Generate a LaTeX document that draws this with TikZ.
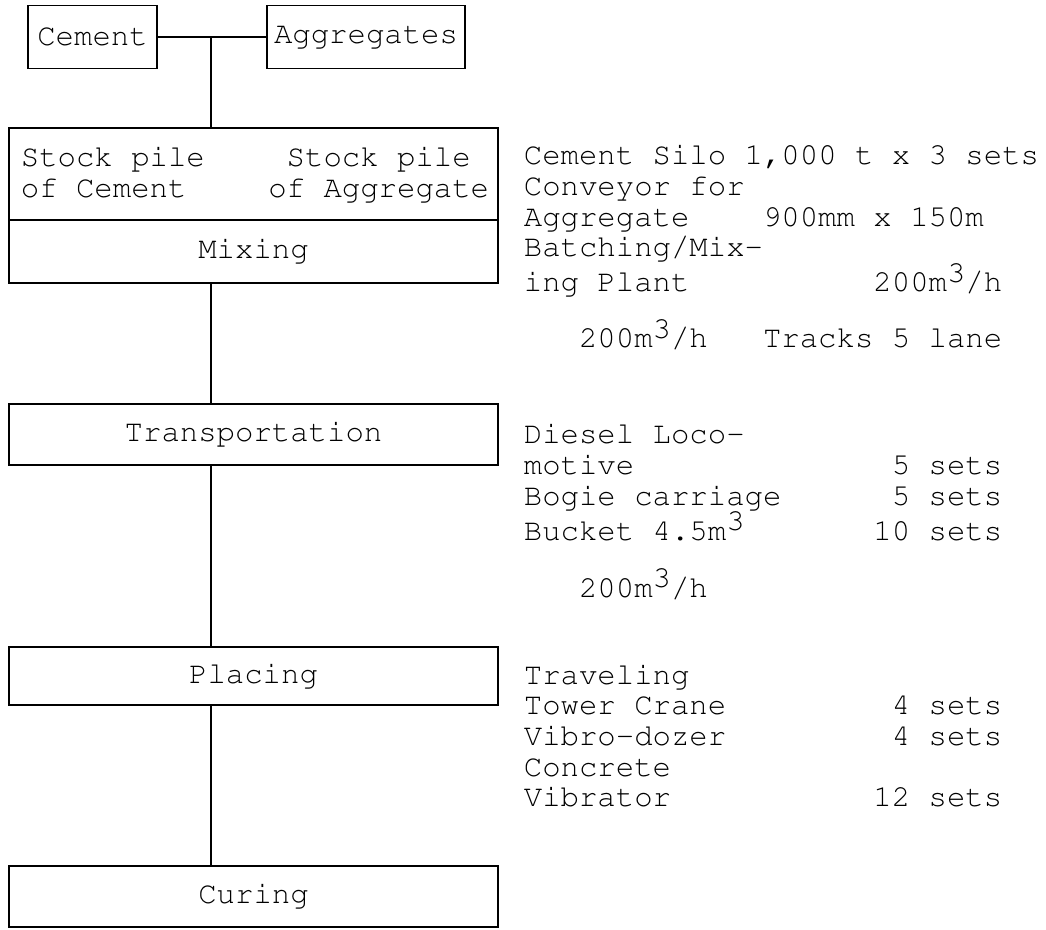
\documentclass[tikz,border=0pt]{standalone}
\usepackage[T1]{fontenc}
\usepackage{tikz}
\usetikzlibrary{positioning}
\tikzstyle{source} = [
    rectangle,
    minimum height=47.25pt,
    inner sep=0pt,
    outer sep=0pt,
    draw=black
]
\tikzstyle{stage} = [
    rectangle,
    minimum width=366.75pt,
    inner sep=0pt,
    outer sep=0pt,
    draw=black
]
\tikzstyle{spec} = [
    text width=358.8pt,
    align=left,
    inner sep=0pt,
    anchor=base west,
    execute at begin node={\spaceskip=0.6em\relax\xspaceskip=0.6em\relax}
]
\tikzstyle{pile} = [
    text width=165.6pt,
    align=left,
    inner sep=0pt,
    execute at begin node={\spaceskip=0.6em\relax\xspaceskip=0.6em\relax}
]
\tikzstyle{link} = [line width=1.3pt]
\newcommand{\cubic}{\raisebox{0.3em}{3}}

\begin{document}
\begin{tikzpicture}[x=0.75pt, y=-0.75pt, line width=1.3pt,
    font=\fontsize{23}{23}\fontfamily{pcr}\selectfont]
\useasboundingbox (0,0) rectangle (1046,930);

\node (cement) [source, minimum width=96.75pt] at (92.5,37) {Cement};
\node (aggr) [source, minimum width=148.5pt] at (366,37) {Aggregates};
\coordinate (junc) at (211,37);

\node (stock) [stage, minimum height=69pt] at (253.5,174) {};
\node (mixing) [stage, minimum height=47.25pt, below=0pt of stock] {Mixing};
\node (stockcem) [pile, anchor=base west] at (20,167)
{Stock pile\\of Cement};
\node (stockagg) [pile, anchor=base east] at (490,167)
{\mbox{\hspace*{0.6em}Stock pile}\\\mbox{of Aggregate}};

\node (trans) [stage, minimum height=45.75pt] at (253.5,434.5) {Transportation};
\node (placing) [stage, minimum height=43.5pt] at (253.5,676) {Placing};
\node (curing) [stage, minimum height=45.75pt] at (253.5,896.5) {Curing};

% equipment lists
\node (mixspec) [spec] at (523,165)
{\mbox{Cement Silo 1,000 t x 3 sets}\\
Conveyor for\\
Aggregate\hspace*{2.4em}900mm x 150m\\
Batching/Mix-\\
ing Plant\hfill 200m\cubic/h};
\node (mixrate) [spec] at (523,348)
{\hspace*{1.8em}200m\cubic/h\hfill Tracks 5 lane};

\node (transspec) [spec] at (523,444)
{Diesel Loco-\\
motive\hfill 5 sets\\
Bogie carriage\hfill 5 sets\\
Bucket 4.5m\cubic\hfill 10 sets};
\node (transrate) [spec] at (523,597)
{\hspace*{1.8em}200m\cubic/h};

\node (placespec) [spec] at (523,684)
{Traveling\\
Tower Crane\hfill 4 sets\\
Vibro-dozer\hfill 4 sets\\
Concrete\\
Vibrator\hfill 12 sets};

\draw [link] (cement) -- (aggr);
\draw [link] (junc) -- (junc |- stock.north);
\draw [link] (junc |- mixing.south) -- (junc |- trans.north);
\draw [link] (junc |- trans.south) -- (junc |- placing.north);
\draw [link] (junc |- placing.south) -- (junc |- curing.north);

\end{tikzpicture}
\end{document}
